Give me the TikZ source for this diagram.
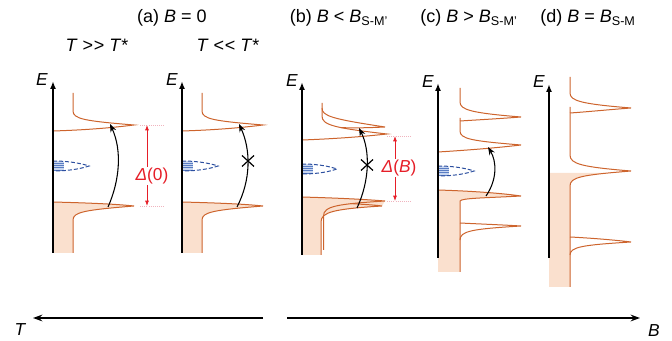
\documentclass[tikz,border=0pt]{standalone}
\usepackage{fontspec}
\setmainfont{Liberation Sans}
\usetikzlibrary{arrows.meta}
\definecolor{dosc}{RGB}{205,100,45}
\definecolor{peach}{RGB}{250,224,206}
\definecolor{bluedash}{RGB}{45,80,160}
\definecolor{lightblue}{RGB}{200,214,240}
\definecolor{hatchblue}{RGB}{90,125,195}
\definecolor{redlab}{RGB}{230,30,40}
\definecolor{pinkline}{RGB}{240,180,190}
\newcommand{\gapstates}[3]{%
  \begin{scope}
    \clip (#1,#3-5) .. controls (#1+18,#3-5) and (#2-6,#3-2) .. (#2,#3) .. controls (#2-6,#3+2) and (#1+18,#3+5) .. (#1,#3+5) -- cycle;
    \fill[lightblue] (#1,#3-6) rectangle (#1+11,#3+6);
    \foreach \k in {2,4.3,6.6,8.9} \draw[hatchblue, line width=0.45pt] (#1,#3-5+\k) -- (#1+11,#3-5+\k);
  \end{scope}
  \draw[gapin] (#1,#3-5) .. controls (#1+18,#3-5) and (#2-6,#3-2) .. (#2,#3) .. controls (#2-6,#3+2) and (#1+18,#3+5) .. (#1,#3+5);
}
\newcommand{\gtgt}{>\kern0.4pt>}
\newcommand{\ltlt}{<\kern0.4pt<}
\begin{document}
\begin{tikzpicture}[x=0.75pt,y=-0.75pt,
  font=\fontsize{13.5}{15}\selectfont,
  dos/.style={draw=dosc, line width=0.75pt},
  eaxis/.style={line width=1.5pt, -{Latex[length=6pt,width=4.5pt]}},
  trans/.style={line width=0.8pt, -{Stealth[length=6pt,width=4.5pt]}},
  crossmark/.style={line width=0.9pt},
  dimline/.style={draw=redlab, line width=0.6pt, {Latex[length=4pt,width=3pt]}-{Latex[length=4pt,width=3pt]}},
  helper/.style={draw=pinkline, line width=0.6pt, densely dotted},
  gapin/.style={draw=bluedash, line width=0.75pt, dash pattern=on 3pt off 1.5pt},
  bigarrow/.style={line width=1.5pt, -{Stealth[length=7pt,width=5pt]}},
  elab/.style={inner sep=0pt, font=\fontsize{13}{15}\selectfont\itshape},
  title/.style={inner sep=0pt, anchor=base},
  redlabel/.style={fill=white, text=redlab, inner sep=1pt, font=\fontsize{13}{15}\selectfont}]
\useasboundingbox (0,0) rectangle (672,341);

% ---------- titles ----------
\node[title] (ta) at (172,23) {(a) \textit{B} = 0};
\node[title] (tb) at (339,23) {(b) \textit{B} < \textit{B}\textsubscript{S-M’}};
\node[title] (tc) at (469,23) {(c) \textit{B} > \textit{B}\textsubscript{S-M’}};
\node[title] (td) at (588,23) {(d) \textit{B} = \textit{B}\textsubscript{S-M}};
\node[title] (thi) at (97,52) {\textit{T} \gtgt{} \textit{T}*};
\node[title] (tlo) at (228,52) {\textit{T} \ltlt{} \textit{T}*};

% ---------- panel (a) left ----------
\fill[peach] (53,202) .. controls (90,203) and (115,204) .. (134,206) .. controls (85,210) and (73,212) .. (73,220) -- (73,253) -- (53,253) -- cycle;
\gapstates{53}{89}{166}
\draw[dos] (73,93) -- (73,111) .. controls (73,119) and (85,121) .. (134,125) .. controls (110,128) and (85,130) .. (53,131);
\draw[dos] (53,202) .. controls (90,203) and (115,204) .. (134,206) .. controls (85,210) and (73,212) .. (73,220) -- (73,253);
\coordinate (a1b) at (53,253);
\coordinate (a1t) at (53,81);
\draw[eaxis] (a1b) -- (a1t);
\node[elab] (Ea1) at (42,80) {E};
\coordinate (a1lo) at (108,207);
\coordinate (a1hi) at (110,124);
\draw[trans] (a1lo) .. controls (120,180) and (122,150) .. (a1hi);
\draw[helper] (140,125) -- (165,125);
\draw[helper] (140,206) -- (165,206);
\coordinate (d0t) at (147,125);
\coordinate (d0b) at (147,206);
\draw[dimline] (d0t) -- (d0b);
\node[redlabel] (lab0) at (152,176) {\textit{Δ}(0)};

% ---------- panel (a) right ----------
\fill[peach] (182,202) .. controls (219,203) and (244,204) .. (263,206) .. controls (214,210) and (202,212) .. (202,220) -- (202,253) -- (182,253) -- cycle;
\gapstates{182}{218}{166}
\draw[dos] (202,93) -- (202,111) .. controls (202,119) and (214,121) .. (263,125) .. controls (239,128) and (214,130) .. (182,131);
\draw[dos] (182,202) .. controls (219,203) and (244,204) .. (263,206) .. controls (214,210) and (202,212) .. (202,220) -- (202,253);
\coordinate (a2b) at (182,253);
\coordinate (a2t) at (182,81);
\draw[eaxis] (a2b) -- (a2t);
\node[elab] (Ea2) at (172,80) {E};
\coordinate (a2lo) at (237,207);
\coordinate (a2hi) at (239,124);
\draw[trans] (a2lo) .. controls (251,180) and (251,150) .. (a2hi);
\draw[crossmark] (242,155.5) -- (254,166.5) (242,166.5) -- (254,155.5);

% ---------- panel (b) ----------
\fill[peach] (302,197) .. controls (335,198) and (360,199) .. (385,201) -- (382,206) .. controls (334,209) and (321,212) .. (321,222) -- (321,255) -- (302,255) -- cycle;
\gapstates{302}{337}{169}
\draw[dos] (322,103) -- (322,116) .. controls (322,125) and (334,128) .. (387,134) .. controls (360,137) and (330,139) .. (302,140);
\draw[dos] (322,108) .. controls (322,116) and (332,119) .. (385,127) .. controls (365,128) and (350,128) .. (341,127.6);
\draw[dos] (302,197) .. controls (335,198) and (360,199) .. (385,201) .. controls (338,204) and (323.5,206) .. (323.5,216) -- (323.5,250);
\draw[dos] (351,203.6) .. controls (365,204.5) and (375,205) .. (382,206) .. controls (334,209) and (321,212) .. (321,222) -- (321,255);
\coordinate (bb) at (302,255);
\coordinate (bt) at (302,82);
\draw[eaxis] (bb) -- (bt);
\node[elab] (Eb) at (292,81) {E};
\coordinate (blo) at (357,208);
\coordinate (bhi) at (359,128);
\draw[trans] (blo) .. controls (370,180) and (370,150) .. (bhi);
\draw[crossmark] (361,159.5) -- (373,170.5) (361,170.5) -- (373,159.5);
\draw[helper] (387,136) -- (412,136);
\draw[helper] (387,201) -- (412,201);
\coordinate (dBt) at (395,136);
\coordinate (dBb) at (395,201);
\draw[dimline] (dBt) -- (dBb);
\node[redlabel] (labB) at (399,168) {\textit{Δ}(\textit{B})};

% ---------- panel (c) ----------
\fill[peach] (438,190) .. controls (470,191) and (500,193) .. (521,196) .. controls (485,198) and (462,198) .. (460,201) -- (460,272) -- (438,272) -- cycle;
\gapstates{438}{474}{171}
\draw[dos] (460,88) -- (460,102) .. controls (460,110) and (472,113) .. (521,117) .. controls (495,119) and (475,120) .. (460,121);
\draw[dos] (460,118) -- (460,131) .. controls (460,139) and (472,141) .. (521,145) .. controls (495,148) and (470,150) .. (438,152);
\draw[dos] (438,190) .. controls (470,191) and (500,193) .. (521,196) .. controls (485,198) and (462,198) .. (460,201) -- (460,272);
\draw[dos] (460,223) .. controls (480,224) and (505,225) .. (521,226) .. controls (472,229) and (460,231) .. (460,240);
\coordinate (cb) at (438,258);
\coordinate (ct) at (438,83);
\draw[eaxis] (cb) -- (ct);
\node[elab] (Ec) at (428,82) {E};
\coordinate (clo) at (486,196);
\coordinate (chi) at (488,147);
\draw[trans] (clo) .. controls (497,180) and (497,162) .. (chi);

% ---------- panel (d) ----------
\fill[peach] (549,173) -- (615,173) -- (631,171) .. controls (582,175) and (570,177) .. (570,186) -- (570,287) -- (549,287) -- cycle;
\draw[dos] (570,77) -- (570,93) .. controls (570,101) and (582,104) .. (631,108) .. controls (605,110) and (585,112) .. (570,113);
\draw[dos] (570,107) -- (570,155) .. controls (570,164) and (582,167) .. (631,171) .. controls (582,175) and (570,177) .. (570,186) -- (570,287);
\draw[dos] (570,237) .. controls (590,238) and (615,240) .. (631,242) .. controls (582,245) and (570,247) .. (570,255);
\coordinate (db) at (549,258);
\coordinate (dt) at (549,84);
\draw[eaxis] (db) -- (dt);
\node[elab] (Ed) at (539,82) {E};

% ---------- bottom arrows ----------
\coordinate (Ts) at (263,318);
\coordinate (Te) at (33,318);
\draw[bigarrow] (Ts) -- (Te);
\node[elab] (Tl) at (20,330) {T};
\coordinate (Bs) at (287,318);
\coordinate (Be) at (640,318);
\draw[bigarrow] (Bs) -- (Be);
\node[elab] (Bl) at (654,331) {B};
\end{tikzpicture}
\end{document}
